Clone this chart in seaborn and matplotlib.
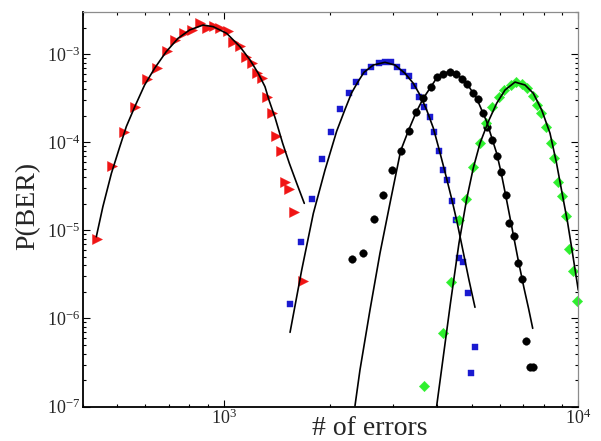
import matplotlib
matplotlib.use("Agg")
import matplotlib.pyplot as plt
import matplotlib.ticker as mticker
import seaborn as sns

# measured points (number of errors, probability)
red_x = [439, 484, 524, 562, 606, 648, 690, 727, 771, 815, 857, 898, 937, 975, 1026,
         1064, 1111, 1155, 1199, 1238, 1279, 1321, 1365, 1405, 1448, 1488, 1532, 1573, 1676]
red_y = [8.05e-6, 5.38e-5, 1.31e-4, 2.54e-4, 5.28e-4, 7.05e-4, 1.10e-3, 1.47e-3, 1.76e-3,
         1.89e-3, 2.25e-3, 1.99e-3, 2.11e-3, 1.97e-3, 1.84e-3, 1.37e-3, 1.24e-3, 9.40e-4,
         8.04e-4, 6.18e-4, 5.33e-4, 3.30e-4, 2.13e-4, 1.19e-4, 8.07e-5, 3.55e-5, 2.94e-5,
         1.61e-5, 2.69e-6]

blue_x = [1538, 1651, 1772, 1889, 2006, 2132, 2251, 2365, 2486, 2597, 2735, 2849, 2957,
          3075, 3209, 3323, 3440, 3560, 3678, 3809, 3917, 4047, 4145, 4271, 4395, 4511,
          4617, 4739, 4875, 4981, 5112]
blue_y = [1.45e-6, 7.48e-6, 2.25e-5, 6.52e-5, 1.32e-4, 2.39e-4, 3.63e-4, 4.84e-4, 6.30e-4,
          7.23e-4, 7.91e-4, 8.24e-4, 8.17e-4, 7.23e-4, 6.25e-4, 5.62e-4, 4.37e-4, 3.30e-4,
          2.54e-4, 1.93e-4, 1.30e-4, 8.04e-5, 4.85e-5, 3.73e-5, 2.16e-5, 1.30e-5, 4.82e-6,
          4.35e-6, 1.93e-6, 2.42e-7, 4.78e-7]

black_x = [2300, 2474, 2645, 2813, 2988, 3162, 3323, 3491, 3654, 3842, 4003, 4161, 4346,
           4519, 4690, 4844, 5036, 5213, 5385, 5537, 5728, 5917, 6073, 6244, 6388, 6578,
           6747, 6925, 7098, 7309, 7452]
black_y = [4.76e-6, 5.61e-6, 1.36e-5, 2.51e-5, 4.89e-5, 7.98e-5, 1.35e-4, 2.21e-4, 3.21e-4,
           4.20e-4, 5.52e-4, 6.04e-4, 6.25e-4, 6.04e-4, 5.20e-4, 4.56e-4, 3.61e-4, 3.08e-4,
           2.15e-4, 1.51e-4, 1.05e-4, 7.00e-5, 4.57e-5, 2.52e-5, 1.21e-5, 8.68e-6, 4.21e-6,
           2.79e-6, 5.59e-7, 2.79e-7, 2.79e-7]

green_x = [3676, 4140, 4366, 4608, 4816, 5056, 5291, 5492, 5709, 5964, 6191, 6439, 6673,
           6916, 7190, 7452, 7634, 7866, 8109, 8349, 8529, 8783, 9014, 9252, 9432, 9681, 9936]
green_y = [1.72e-7, 6.92e-7, 2.62e-6, 1.30e-5, 2.29e-5, 5.29e-5, 9.71e-5, 1.64e-4, 2.49e-4,
           3.27e-4, 3.93e-4, 4.54e-4, 4.79e-4, 4.60e-4, 4.14e-4, 3.36e-4, 2.69e-4, 2.14e-4,
           1.51e-4, 9.83e-5, 6.59e-5, 3.57e-5, 2.46e-5, 1.47e-5, 6.10e-6, 3.49e-6, 1.58e-6]

# fitted curves
red_fit_x = [437, 456, 482, 509, 531, 561, 598, 638, 688, 743, 801, 874, 934, 1019, 1111,
             1186, 1251, 1307, 1341, 1397, 1466, 1531, 1606, 1687]
red_fit_y = [8.48e-6, 1.86e-5, 4.45e-5, 8.93e-5, 1.51e-4, 2.54e-4, 4.48e-4, 6.93e-4, 1.07e-3,
             1.52e-3, 1.89e-3, 2.15e-3, 2.06e-3, 1.73e-3, 1.22e-3, 8.62e-4, 6.08e-4, 4.29e-4,
             3.03e-4, 1.88e-4, 9.75e-5, 5.78e-5, 3.43e-5, 2.03e-5]

blue_fit_x = [1538, 1659, 1789, 1930, 2082, 2198, 2295, 2386, 2486, 2641, 2849, 3041, 3245,
              3424, 3577, 3736, 3899, 4047, 4207, 4403, 4549, 4699, 4917, 5112]
blue_fit_y = [6.96e-7, 3.55e-6, 1.56e-5, 4.85e-5, 1.34e-4, 2.37e-4, 3.66e-4, 4.81e-4, 6.25e-4,
              7.56e-4, 8.11e-4, 7.56e-4, 6.08e-4, 4.69e-4, 3.45e-4, 2.33e-4, 1.46e-4, 8.41e-5,
              4.61e-5, 2.21e-5, 1.25e-5, 6.65e-6, 2.73e-6, 1.34e-6]

black_fit_x = [2345, 2422, 2585, 2758, 2943, 3155, 3323, 3491, 3654, 3842, 4003, 4161, 4346,
               4519, 4844, 5169, 5516, 5886, 6053, 6253, 6501, 6760, 7028, 7237, 7438]
black_fit_y = [1.02e-7, 2.60e-7, 1.25e-6, 5.50e-6, 2.03e-5, 8.04e-5, 1.38e-4, 2.21e-4, 3.16e-4,
               4.29e-4, 5.52e-4, 6.13e-4, 6.34e-4, 6.08e-4, 4.69e-4, 3.16e-4, 1.72e-4, 7.51e-5,
               4.61e-5, 2.40e-5, 1.07e-5, 4.73e-6, 2.22e-6, 1.31e-6, 7.73e-7]

green_fit_x = [3987, 4161, 4360, 4608, 4844, 5056, 5281, 5574, 5886, 6213, 6630, 7075, 7467,
               7886, 8322, 8670, 9056, 9324, 9581, 10000]
green_fit_y = [1.02e-7, 3.68e-7, 1.50e-6, 7.19e-6, 2.27e-5, 5.11e-5, 9.75e-5, 1.72e-4, 2.78e-4,
               3.93e-4, 4.84e-4, 4.48e-4, 3.61e-4, 2.33e-4, 1.27e-4, 5.98e-5, 2.33e-5, 1.25e-5,
               6.31e-6, 2.10e-6]

sns.set_theme(style="ticks")
plt.rcParams['font.family'] = ['Liberation Serif', 'DejaVu Serif']
plt.rcParams['mathtext.fontset'] = 'stix'

fig, ax = plt.subplots(figsize=(6.01, 4.41), dpi=100)
fig.subplots_adjust(left=0.1376, right=0.9622, bottom=0.0782, top=0.9721)
ax.set(xscale='log', yscale='log')

series = [
    (red_x, red_y, '>', '#f01414', 52),
    (blue_x, blue_y, 's', '#1a1ad0', 15),
    (black_x, black_y, 'o', 'black', 30),
    (green_x, green_y, 'D', '#2ef02e', 28),
]
for x, y, m, c, s in series:
    sns.scatterplot(x=x, y=y, marker=m, color=c, s=s, edgecolor=c, linewidth=0.3,
                    ax=ax, clip_on=False, zorder=2)

fits = [(red_fit_x, red_fit_y), (blue_fit_x, blue_fit_y),
        (black_fit_x, black_fit_y), (green_fit_x, green_fit_y)]
for x, y in fits:
    sns.lineplot(x=x, y=y, color='black', linewidth=1.2, sort=False, estimator=None,
                 ax=ax, zorder=3)

ax.set_xlim(400, 1e4)
ax.set_ylim(1e-7, 3e-3)

ax.xaxis.set_major_locator(mticker.LogLocator(base=10, numticks=10))
ax.xaxis.set_minor_locator(mticker.LogLocator(base=10, subs=range(2, 10), numticks=50))
ax.yaxis.set_minor_locator(mticker.LogLocator(base=10, subs=range(2, 10), numticks=50))
ax.xaxis.set_minor_formatter(mticker.NullFormatter())
ax.yaxis.set_minor_formatter(mticker.NullFormatter())

ax.tick_params(which='both', direction='in', top=True, right=True, width=0.8,
               color='black', labelsize=13)
ax.tick_params(which='major', length=5)
ax.tick_params(which='minor', length=2.5)
ax.tick_params(axis='x', pad=1.5)
ax.tick_params(axis='y', pad=2)

for side in ['left', 'bottom']:
    ax.spines[side].set(color='black', linewidth=1.3)
for side in ['top', 'right']:
    ax.spines[side].set(color='#8c8c8c', linewidth=0.9)

ax.set_xlabel('# of errors', fontsize=20, va='baseline')
ax.xaxis.set_label_coords(0.579, -0.0723)
ax.set_ylabel('P(BER)', fontsize=20)
ax.yaxis.set_label_coords(-0.085, 0.51)

fig.canvas.draw()
for axis in (ax.xaxis, ax.yaxis):
    for t in axis.get_major_ticks() + axis.get_minor_ticks():
        t.tick2line.set_color('#8c8c8c')

fig.savefig('out.png', dpi=100, facecolor='white')
